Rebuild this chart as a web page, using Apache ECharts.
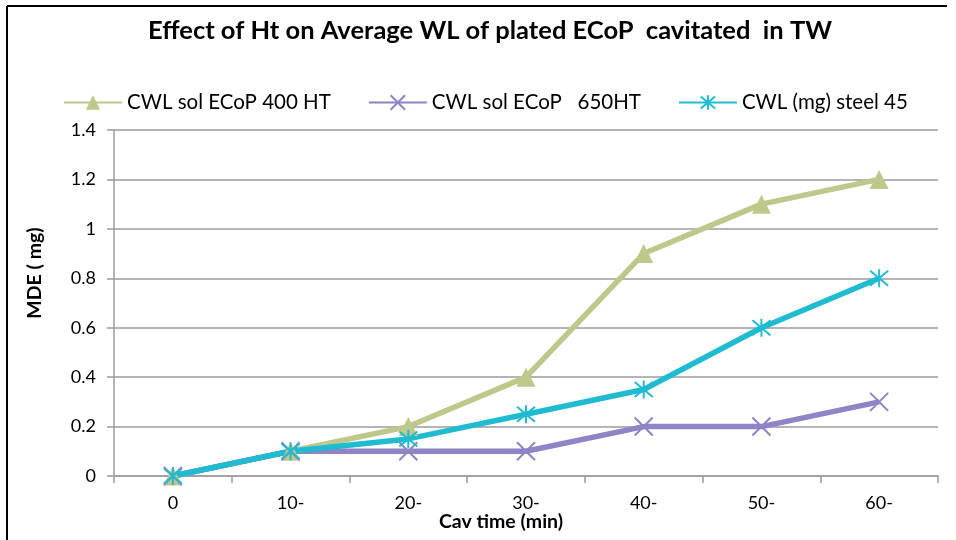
<!DOCTYPE html>
<html>
<head>
<meta charset="utf-8">
<script src="https://cdn.jsdelivr.net/npm/echarts@6/dist/echarts.min.js"></script>
<style>
html,body{margin:0;padding:0;background:#fff;}
#c{width:956px;height:540px;}
</style>
</head>
<body>
<div id="c"></div>
<script>
const categories = ['0', '10-', '20-', '30-', '40-', '50-', '60-'];
const seriesNames = ['CWL sol ECoP 400 HT', 'CWL sol ECoP   650HT', 'CWL (mg) steel 45'];
const ecop400 = [0, 0.1, 0.2, 0.4, 0.9, 1.1, 1.2];
const ecop650 = [0, 0.1, 0.1, 0.1, 0.2, 0.2, 0.3];
const steel45 = [0, 0.1, 0.15, 0.25, 0.35, 0.6, 0.8];
const yTicks = { min: 0, max: 1.4, interval: 0.2 };

const FONT = 'Lato';
const green = '#BDC88A', purple = '#9282C6', cyan = '#1FBBD0';
const chart = echarts.init(document.getElementById('c'));
chart.setOption({
  animation: false,
  backgroundColor: '#fff',
  title: {
    text: 'Effect of Ht on Average WL of plated ECoP  cavitated  in TW',
    left: 485, top: 13, textAlign: 'center',
    textStyle: { fontFamily: FONT, fontSize: 25.5, fontWeight: 'bold', color: '#000' }
  },
  legend: {
    top: 87, left: 58,
    itemWidth: 58, itemHeight: 18, itemGap: 37,
    textStyle: { fontFamily: FONT, fontSize: 20.5, color: '#000' },
    data: seriesNames
  },
  grid: { left: 114, right: 18, top: 130, bottom: 64 },
  xAxis: {
    type: 'category', data: categories, boundaryGap: true,
    axisLine: { lineStyle: { color: '#9A9AA0', width: 1.5 } },
    axisTick: { show: true, length: 7, lineStyle: { color: '#9A9AA0', width: 1.5 } },
    axisLabel: { fontFamily: FONT, fontSize: 18, color: '#000', margin: 18 }
  },
  yAxis: {
    type: 'value', min: yTicks.min, max: yTicks.max, interval: yTicks.interval,
    axisLine: { show: true, lineStyle: { color: '#9A9AA0', width: 1.5 } },
    axisTick: { show: true, length: 7, lineStyle: { color: '#9A9AA0', width: 1.5 } },
    splitLine: { lineStyle: { color: '#9A9AA0', width: 1.5 } },
    axisLabel: { fontFamily: FONT, fontSize: 18, color: '#000', margin: 18,
      formatter: v => String(Math.round(v * 10) / 10) }
  },
  graphic: [
    { type: 'line', shape: { x1: 7, y1: 6, x2: 947, y2: 6 }, style: { stroke: '#000', lineWidth: 2 } },
    { type: 'line', shape: { x1: 7, y1: 6, x2: 7, y2: 540 }, style: { stroke: '#000', lineWidth: 2 } },
    { type: 'text', x: 501, y: 522,
      style: { text: 'Cav time (min)', font: 'bold 19.5px ' + FONT, fill: '#000', align: 'center', verticalAlign: 'middle' } },
    { type: 'text', x: 35, y: 273, rotation: Math.PI / 2,
      style: { text: 'MDE ( mg)', font: 'bold 19.5px ' + FONT, fill: '#000', align: 'center', verticalAlign: 'middle' } }
  ],
  series: [
    { name: seriesNames[0], type: 'line', data: ecop400, symbol: 'triangle', symbolSize: 19,
      lineStyle: { color: green, width: 5.5 }, itemStyle: { color: green } },
    { name: seriesNames[1], type: 'line', data: ecop650, symbol: 'path://M0,0L10,10M10,0L0,10', symbolSize: 18,
      lineStyle: { color: purple, width: 5.5 }, itemStyle: { color: 'rgba(0,0,0,0)', borderColor: purple, borderWidth: 2 } },
    { name: seriesNames[2], type: 'line', data: steel45, symbol: 'path://M0,0L10,10M10,0L0,10M5,-1L5,11', symbolSize: 18,
      lineStyle: { color: cyan, width: 5.5 }, itemStyle: { color: 'rgba(0,0,0,0)', borderColor: cyan, borderWidth: 2 } }
  ]
});
</script>
</body>
</html>
